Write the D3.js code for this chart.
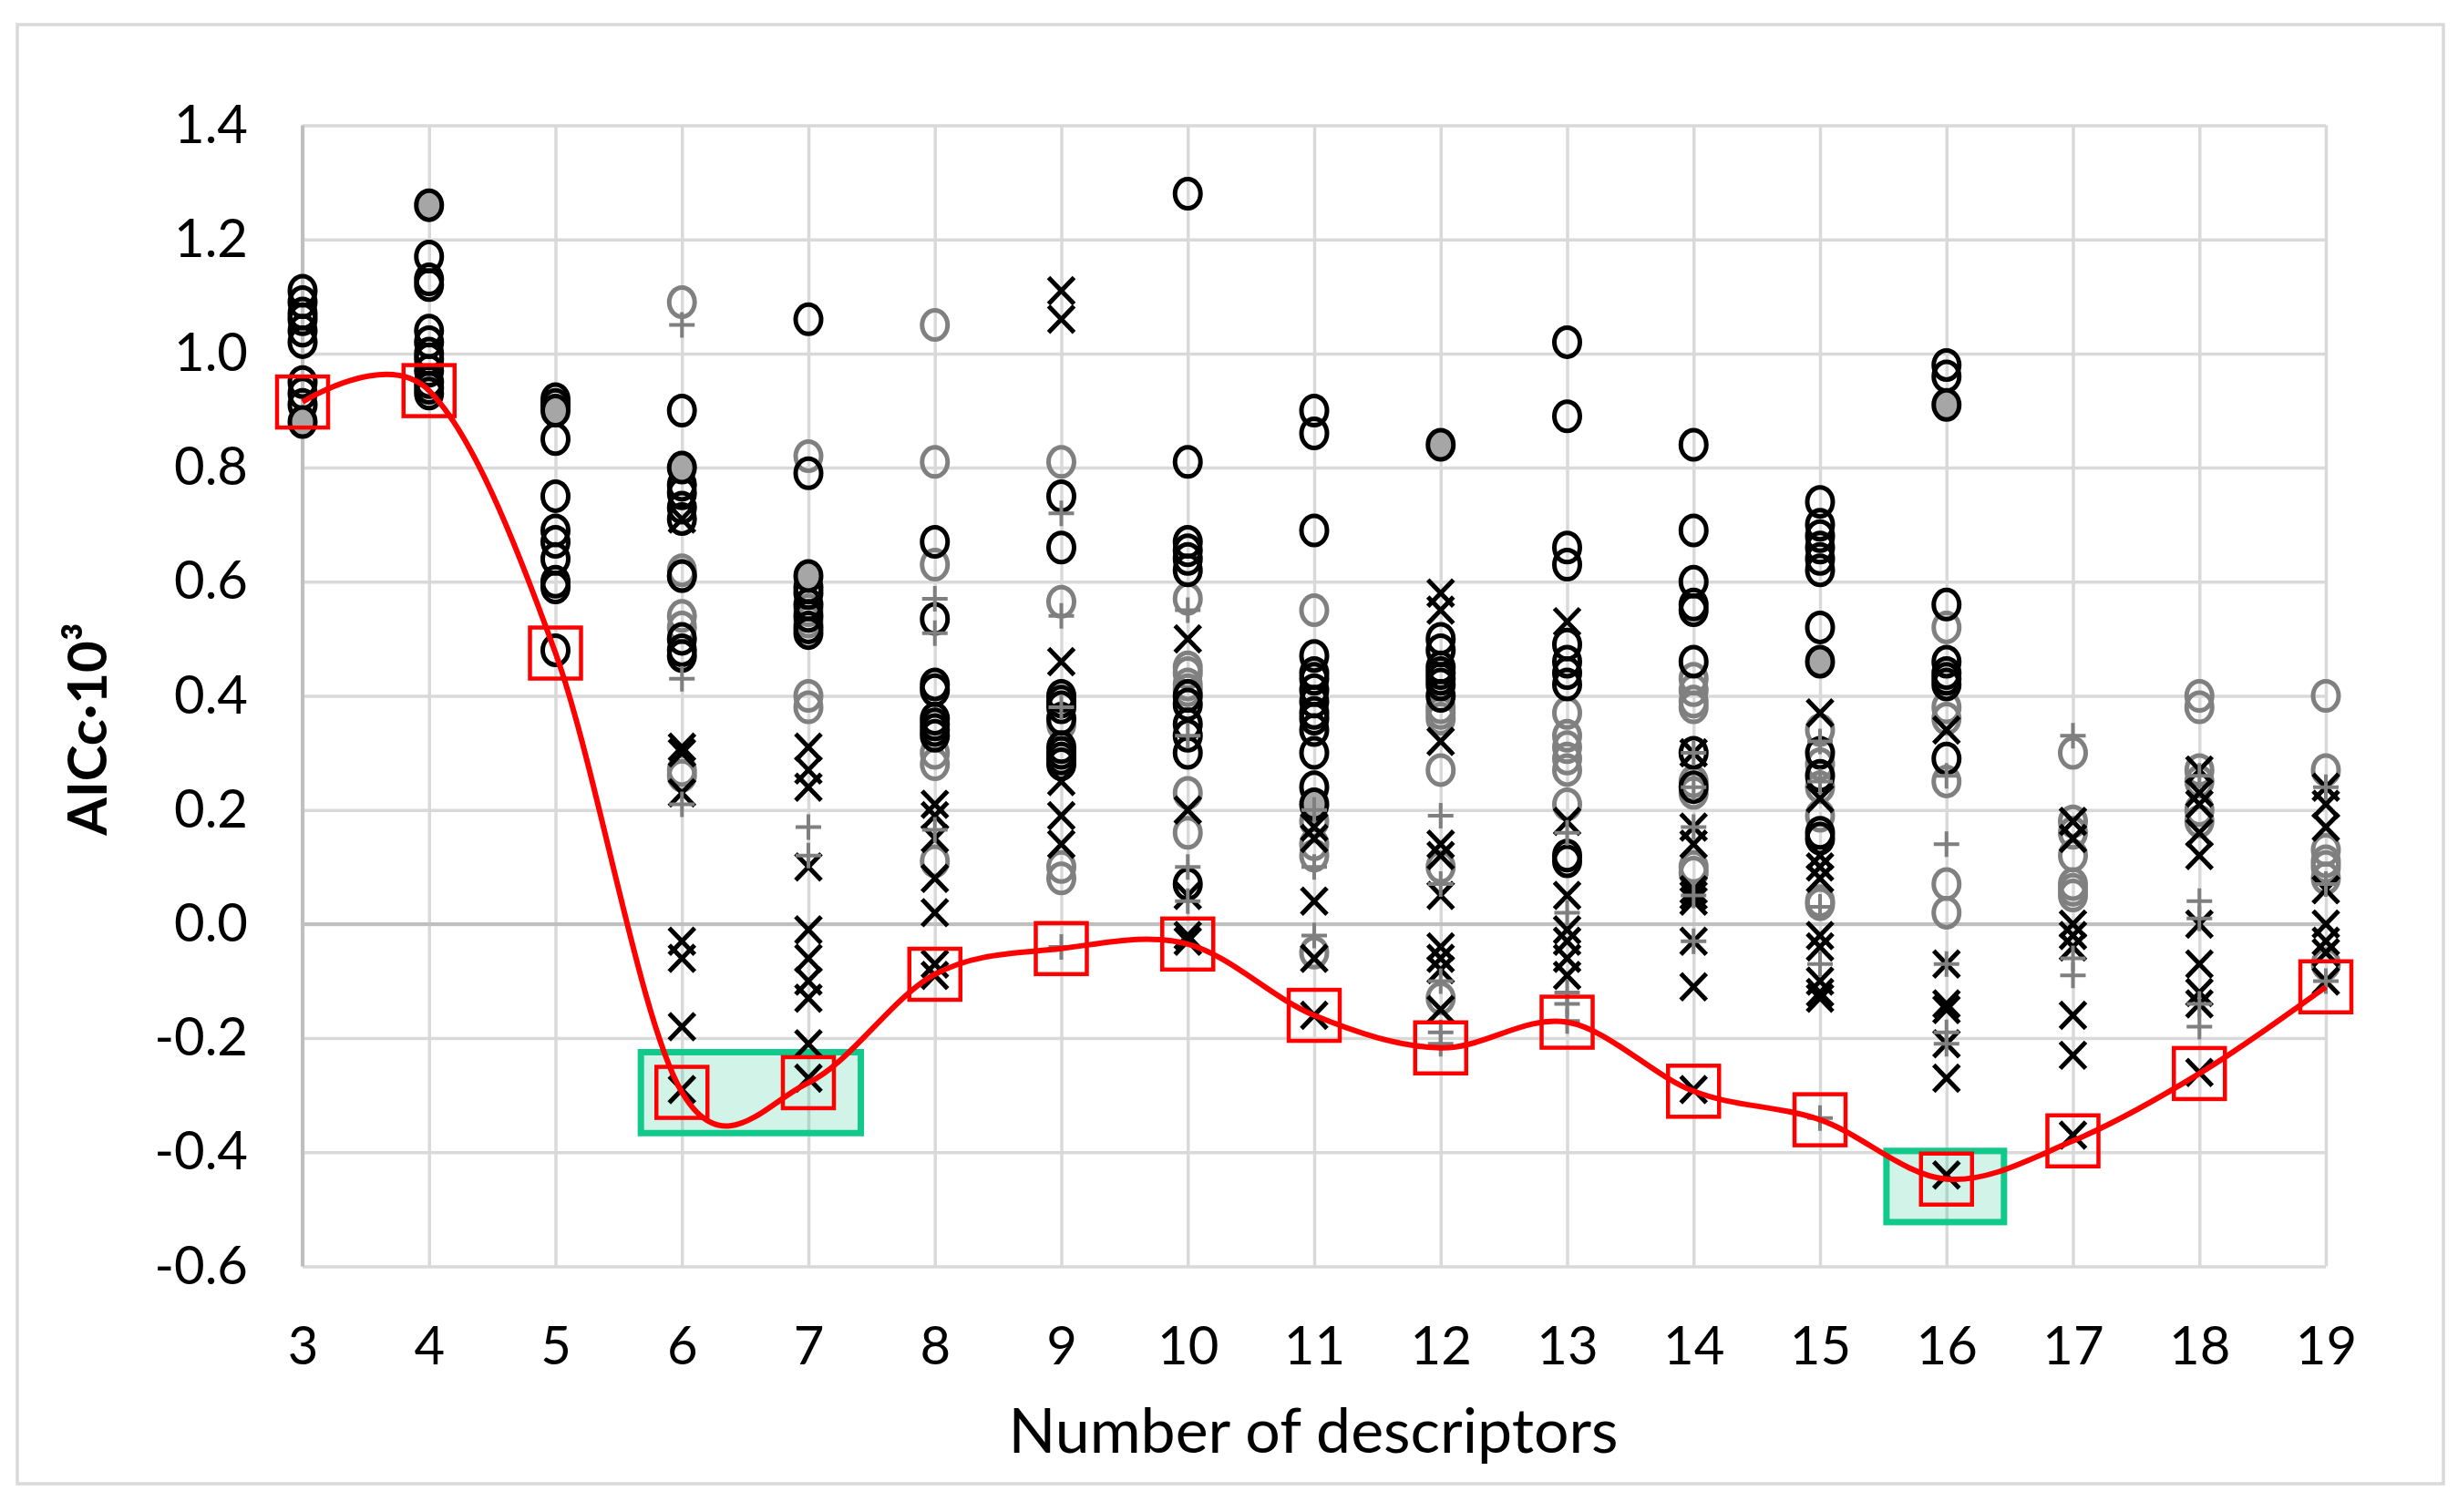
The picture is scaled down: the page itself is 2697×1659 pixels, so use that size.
<!DOCTYPE html>
<html>
<head>
<meta charset="utf-8">
<script src="https://cdn.jsdelivr.net/npm/d3@7"></script>
<style>
  html, body { margin: 0; padding: 0; background: #fff; }
  svg { display: block; }
</style>
</head>
<body>
<div id="chart"></div>
<script>
// ---------------- DATA ----------------
const categories = [3, 4, 5, 6, 7, 8, 9, 10, 11, 12, 13, 14, 15, 16, 17, 18, 19];
const yTicks = [-0.6, -0.4, -0.2, 0.0, 0.2, 0.4, 0.6, 0.8, 1.0, 1.2, 1.4];
const xLabel = "Number of descriptors";
const yLabel = "AICc·10³";

// one inner array per category (3..19)
const blackCircles = [
  [1.11, 1.09, 1.07, 1.06, 1.04, 1.02, 0.95, 0.93, 0.91],
  [1.17, 1.13, 1.12, 1.04, 1.02, 1.00, 0.99, 0.97, 0.95, 0.94, 0.93],
  [0.92, 0.91, 0.85, 0.75, 0.69, 0.67, 0.64, 0.60, 0.59, 0.48],
  [0.90, 0.77, 0.755, 0.73, 0.71, 0.61, 0.50, 0.48, 0.47],
  [1.06, 0.79, 0.59, 0.58, 0.56, 0.54, 0.52, 0.51],
  [0.67, 0.535, 0.42, 0.41, 0.36, 0.35, 0.34, 0.33],
  [0.75, 0.66, 0.40, 0.39, 0.38, 0.36, 0.31, 0.30, 0.29, 0.28],
  [1.28, 0.81, 0.67, 0.655, 0.64, 0.62, 0.40, 0.385, 0.35, 0.33, 0.30, 0.07],
  [0.90, 0.86, 0.69, 0.47, 0.44, 0.43, 0.41, 0.39, 0.37, 0.36, 0.34, 0.30, 0.24],
  [0.50, 0.48, 0.45, 0.44, 0.43, 0.42, 0.40],
  [1.02, 0.89, 0.66, 0.63, 0.49, 0.46, 0.44, 0.42, 0.12, 0.11],
  [0.84, 0.69, 0.60, 0.56, 0.55, 0.46, 0.30, 0.24],
  [0.74, 0.70, 0.68, 0.66, 0.64, 0.62, 0.52, 0.30, 0.26, 0.16, 0.15],
  [0.98, 0.96, 0.56, 0.46, 0.44, 0.43, 0.42, 0.29],
  [],
  [],
  []
];
const grayCircles = [
  [], [], [],
  [1.09, 0.62, 0.61, 0.54, 0.52, 0.27, 0.26],
  [0.82, 0.55, 0.53, 0.40, 0.38],
  [1.05, 0.81, 0.63, 0.30, 0.28, 0.11],
  [0.81, 0.565, 0.35, 0.10, 0.08],
  [0.57, 0.45, 0.44, 0.42, 0.41, 0.23, 0.16],
  [0.55, 0.18, 0.14, 0.12, -0.05],
  [0.38, 0.37, 0.36, 0.27, 0.10, -0.13],
  [0.37, 0.33, 0.31, 0.29, 0.27, 0.21],
  [0.43, 0.41, 0.39, 0.38, 0.25, 0.23, 0.10, 0.09],
  [0.34, 0.28, 0.24, 0.19, 0.04, 0.035],
  [0.52, 0.38, 0.36, 0.25, 0.07, 0.02],
  [0.30, 0.18, 0.16, 0.12, 0.07, 0.06, 0.05],
  [0.40, 0.38, 0.27, 0.25, 0.20, 0.18],
  [0.40, 0.27, 0.13, 0.11, 0.10, 0.08, -0.07]
];
const grayFilledCircles = [
  [0.88], [1.26], [0.90], [0.80], [0.61], [], [], [], [0.21], [0.84], [], [], [0.46], [0.91], [], [], []
];
const blackCrosses = [
  [], [], [],
  [0.71, 0.31, 0.30, 0.23, -0.03, -0.06, -0.18, -0.29],
  [0.31, 0.27, 0.24, 0.10, -0.01, -0.06, -0.10, -0.13, -0.21, -0.27],
  [0.21, 0.19, 0.15, 0.08, 0.02, -0.07, -0.09],
  [1.11, 1.06, 0.46, 0.25, 0.19, 0.14],
  [0.50, 0.20, 0.05, -0.02, -0.03],
  [0.17, 0.15, 0.04, -0.06, -0.16],
  [0.58, 0.55, 0.32, 0.14, 0.12, 0.05, -0.04, -0.06, -0.08, -0.15],
  [0.53, 0.18, 0.05, -0.01, -0.03, -0.06, -0.09],
  [0.30, 0.17, 0.14, 0.06, 0.05, 0.04, -0.03, -0.11, -0.29],
  [0.37, 0.22, 0.12, 0.10, 0.08, -0.02, -0.04, -0.10, -0.12, -0.13],
  [0.34, -0.07, -0.14, -0.15, -0.21, -0.27, -0.44],
  [0.18, 0.15, 0.00, -0.02, -0.04, -0.16, -0.23, -0.37],
  [0.27, 0.23, 0.21, 0.16, 0.12, 0.00, -0.07, -0.12, -0.14, -0.26],
  [0.24, 0.21, 0.17, 0.06, 0.00, -0.03, -0.05, -0.10]
];
const grayPluses = [
  [], [], [],
  [1.05, 0.43, 0.21],
  [0.17, 0.12],
  [0.57, 0.51, 0.165],
  [0.72, 0.54, 0.38, -0.04],
  [0.55, 0.33, 0.10, 0.04],
  [0.20, 0.10, -0.02],
  [0.19, 0.07, -0.10, -0.19, -0.21],
  [0.16, 0.02, -0.12, -0.14, -0.17],
  [0.30, 0.24, 0.17, 0.05, -0.03],
  [0.32, 0.25, 0.03, -0.07, -0.34],
  [0.26, 0.14, -0.07, -0.19, -0.21],
  [0.33, -0.06, -0.09],
  [0.26, 0.04, 0.01, -0.14, -0.18],
  [0.24, 0.07, -0.10]
];
const minAICc = [0.915, 0.935, 0.475, -0.295, -0.278, -0.088, -0.043, -0.035, -0.16, -0.217, -0.172, -0.293, -0.343, -0.447, -0.38, -0.262, -0.11];

// highlighted optimum regions (data units)
const highlightXFrom = [5.65, 15.5];
const highlightXTo = [7.44, 16.48];
const highlightYLow = [-0.372, -0.528];
const highlightYHigh = [-0.219, -0.392];

// ---------------- LAYOUT ----------------
const W = 2697, H = 1659;
const plot = { left: 332, right: 2552, top: 137.5, bottom: 1389.5 };
const FONT = "Lato, 'Open Sans', 'DejaVu Sans', sans-serif";

const svg = d3.select("#chart").append("svg")
  .attr("width", W).attr("height", H)
  .attr("viewBox", `0 0 ${W} ${H}`);

svg.append("rect").attr("width", W).attr("height", H).attr("fill", "#fff");
// chart frame
svg.append("rect")
  .attr("x", 19).attr("y", 27).attr("width", 2662).attr("height", 1601)
  .attr("fill", "none").attr("stroke", "#d9d9d9").attr("stroke-width", 3.5);

const x = d3.scaleLinear().domain([3, 19]).range([plot.left, plot.right]);
const y = d3.scaleLinear().domain([-0.6, 1.4]).range([plot.bottom, plot.top]);

const fmt = d => (Math.abs(d) < 1e-9 ? "0.0" : d.toFixed(1));

// gridlines (horizontal)
const yGrid = svg.append("g")
  .attr("transform", `translate(${plot.left},0)`)
  .call(d3.axisLeft(y).tickValues(yTicks).tickSize(-(plot.right - plot.left)).tickFormat(""));
yGrid.select(".domain").remove();
yGrid.selectAll(".tick line").attr("stroke", "#d9d9d9").attr("stroke-width", 3.5);

// gridlines (vertical)
const xGrid = svg.append("g")
  .attr("transform", `translate(0,${plot.bottom})`)
  .call(d3.axisBottom(x).tickValues(categories).tickSize(-(plot.bottom - plot.top)).tickFormat(""));
xGrid.select(".domain").remove();
xGrid.selectAll(".tick line").attr("stroke", "#d9d9d9").attr("stroke-width", 3.5);

// axis lines: vertical axis at left, horizontal axis at 0
svg.append("line")
  .attr("x1", x(3)).attr("x2", x(3)).attr("y1", y(1.4)).attr("y2", y(-0.6))
  .attr("stroke", "#bfbfbf").attr("stroke-width", 4);
svg.append("line")
  .attr("x1", x(3)).attr("x2", x(19)).attr("y1", y(0)).attr("y2", y(0))
  .attr("stroke", "#bfbfbf").attr("stroke-width", 4);

// y tick labels
const yAxis = svg.append("g")
  .attr("transform", `translate(${plot.left},0)`)
  .call(d3.axisLeft(y).tickValues(yTicks).tickSize(0).tickPadding(60).tickFormat(fmt));
yAxis.select(".domain").remove();
yAxis.selectAll("text")
  .attr("font-family", FONT).attr("font-size", 58).attr("fill", "#000");

// x tick labels
const xAxis = svg.append("g")
  .attr("transform", `translate(0,${plot.bottom})`)
  .call(d3.axisBottom(x).tickValues(categories).tickSize(0).tickPadding(66).tickFormat(d3.format("d")));
xAxis.select(".domain").remove();
xAxis.selectAll("text")
  .attr("font-family", FONT).attr("font-size", 58).attr("fill", "#000");

// axis titles
svg.append("text")
  .attr("x", 1441).attr("y", 1594)
  .attr("text-anchor", "middle")
  .attr("font-family", FONT).attr("font-size", 68).attr("fill", "#000")
  .text(xLabel);
svg.append("text")
  .attr("transform", `translate(117,800) rotate(-90)`)
  .attr("text-anchor", "middle")
  .attr("font-family", FONT).attr("font-size", 60).attr("font-weight", "bold").attr("fill", "#000")
  .text(yLabel);

// highlight boxes
const hl = highlightXFrom.map((d, i) => ({ x0: d, x1: highlightXTo[i], y0: highlightYLow[i], y1: highlightYHigh[i] }));
svg.append("g").selectAll("rect").data(hl).join("rect")
  .attr("x", d => x(d.x0) + 3.5).attr("y", d => y(d.y1) + 3.5)
  .attr("width", d => x(d.x1) - x(d.x0) - 7).attr("height", d => y(d.y0) - y(d.y1) - 7)
  .attr("fill", "rgba(0,190,130,0.18)")
  .attr("stroke", "#10c98a").attr("stroke-width", 7);

// flatten helper
const flat = arr => arr.flatMap((vals, i) => vals.map(v => ({ c: categories[i], v })));

const RX = 14, RY = 16, SW = 5;
const marks = svg.append("g");
// gray open circles
marks.append("g").selectAll("ellipse").data(flat(grayCircles)).join("ellipse")
  .attr("cx", d => x(d.c)).attr("cy", d => y(d.v)).attr("rx", RX).attr("ry", RY)
  .attr("fill", "none").attr("stroke", "#808080").attr("stroke-width", SW);
// black open circles
marks.append("g").selectAll("ellipse").data(flat(blackCircles)).join("ellipse")
  .attr("cx", d => x(d.c)).attr("cy", d => y(d.v)).attr("rx", RX).attr("ry", RY)
  .attr("fill", "none").attr("stroke", "#000").attr("stroke-width", SW);
// gray filled circles
marks.append("g").selectAll("ellipse").data(flat(grayFilledCircles)).join("ellipse")
  .attr("cx", d => x(d.c)).attr("cy", d => y(d.v)).attr("rx", RX).attr("ry", RY)
  .attr("fill", "#a6a6a6").attr("stroke", "#000").attr("stroke-width", SW);
// black crosses
const xs = 14, ys = 14.5;
marks.append("g").selectAll("path").data(flat(blackCrosses)).join("path")
  .attr("transform", d => `translate(${x(d.c)},${y(d.v)})`)
  .attr("d", `M${-xs},${-ys}L${xs},${ys}M${-xs},${ys}L${xs},${-ys}`)
  .attr("fill", "none").attr("stroke", "#000").attr("stroke-width", SW);
// gray pluses
const ps = 14;
marks.append("g").selectAll("path").data(flat(grayPluses)).join("path")
  .attr("transform", d => `translate(${x(d.c)},${y(d.v)})`)
  .attr("d", `M${-ps},0L${ps},0M0,${-ps}L0,${ps}`)
  .attr("fill", "none").attr("stroke", "#7f7f7f").attr("stroke-width", 4);

// red smoothed minimum line
const minData = categories.map((c, i) => ({ c, v: minAICc[i] }));
svg.append("path").datum(minData)
  .attr("d", d3.line().x(d => x(d.c)).y(d => y(d.v)).curve(d3.curveCatmullRom.alpha(0)))
  .attr("fill", "none").attr("stroke", "#ff0000").attr("stroke-width", 6);
// red squares
const sq = 28;
svg.append("g").selectAll("rect").data(minData).join("rect")
  .attr("x", d => x(d.c) - sq).attr("y", d => y(d.v) - sq)
  .attr("width", 2 * sq).attr("height", 2 * sq)
  .attr("fill", "none").attr("stroke", "#ff0000").attr("stroke-width", 4.5);
</script>
</body>
</html>
